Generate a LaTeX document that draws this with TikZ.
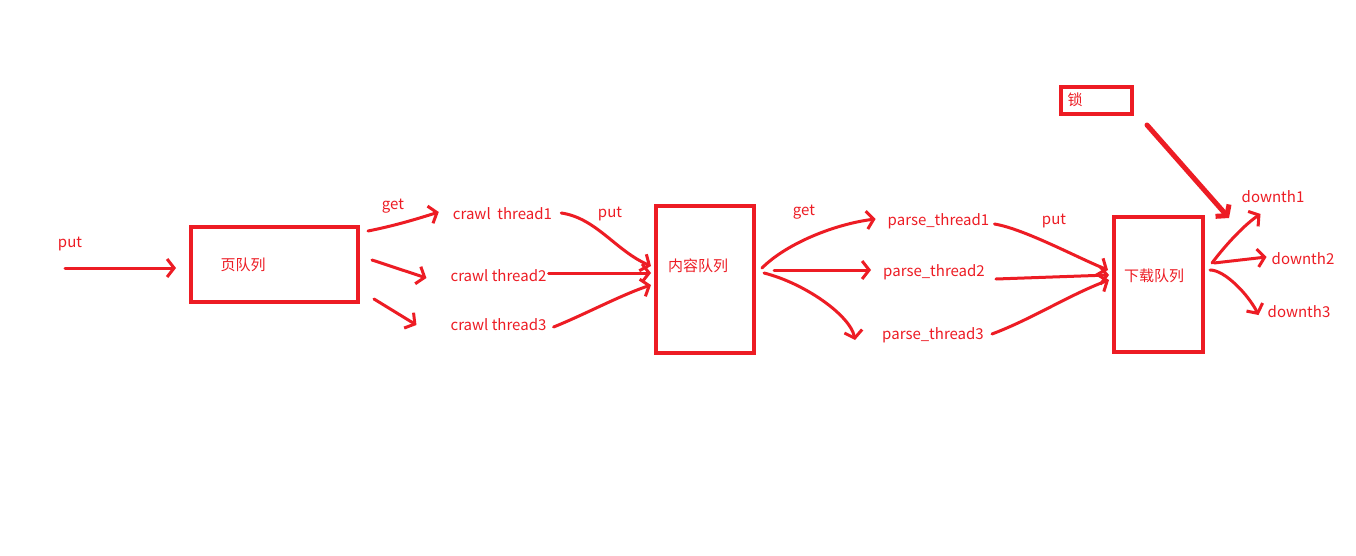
\documentclass[tikz,border=0pt]{standalone}
\usepackage{fontspec}
\setmainfont{Noto Sans CJK SC}
\usetikzlibrary{arrows.meta}
\definecolor{paintred}{RGB}{237,28,36}
\tikzset{
  qbox/.style={draw=paintred, line width=4pt, inner sep=0pt},
  lbl/.style={text=paintred, font=\fontsize{15}{18}\selectfont, inner sep=2pt},
  arr/.style={draw=paintred, line width=3pt, line cap=round, -{Straight Barb[length=7pt,width=18pt]}}
}
\begin{document}
\begin{tikzpicture}[x=1pt,y=-1pt]
    \useasboundingbox[fill=white] (0,0) rectangle (1356,555);
    % queues
    \node[qbox,minimum width=167pt,minimum height=75pt] (pq) at (274.5,264.5) {};
    \node[qbox,minimum width=98pt,minimum height=147pt] (cq) at (705,279.5) {};
    \node[qbox,minimum width=89pt,minimum height=135pt] (dq) at (1158.5,284.5) {};
    \node[qbox,minimum width=71pt,minimum height=27pt] (lock) at (1096.5,100.5) {};
    \node[lbl] (pqt) at (243,265) {页队列};
    \node[lbl] (cqt) at (698,266) {内容队列};
    \node[lbl] (dqt) at (1154,276) {下载队列};
    \node[lbl] (lockt) at (1075,100) {锁};
    % labels
    \node[lbl] (put1) at (70,244) {put};
    \node[lbl] (get1) at (393,206) {get};
    \node[lbl] (put2) at (610,214) {put};
    \node[lbl] (get2) at (804,212) {get};
    \node[lbl] (put3) at (1054,221) {put};
    \node[lbl] (ct1) at (502.5,214) {crawl\ \ thread1};
    \node[lbl] (ct2) at (498.5,276) {crawl thread2};
    \node[lbl] (ct3) at (498.5,325) {crawl thread3};
    \node[lbl] (pt1) at (938.5,221) {parse\_thread1};
    \node[lbl] (pt2) at (934,272) {parse\_thread2};
    \node[lbl] (pt3) at (933,335) {parse\_thread3};
    \node[lbl] (dt1) at (1273,197) {downth1};
    \node[lbl] (dt2) at (1303,259) {downth2};
    \node[lbl] (dt3) at (1299,312) {downth3};
    \coordinate (src) at (65,268);
    % arrows
    \draw[arr] (src) -- ([shift={(-13,3.5)}]pq.west);
    \draw[arr] ([shift={(8,6)}]pq.north east) .. controls +(25,-5) and +(-25,8) .. ([shift={(-12,-2)}]ct1.west);
    \draw[arr] ([shift={(12,-4.5)}]pq.east) -- ([shift={(-22,2)}]ct2.west);
    \draw[arr] ([shift={(14,-5)}]pq.south east) -- ([shift={(-32,0)}]ct3.west);
    \draw[arr] ([shift={(7,-1)}]ct1.east) .. controls +(35,5) and +(-35,-15) .. ([shift={(-3,-13.5)}]cq.west);
    \draw[arr] ([shift={(0,-3)}]ct2.east) -- ([shift={(-3,-6.5)}]cq.west);
    \draw[arr] ([shift={(5,2)}]ct3.east) .. controls +(30,-12) and +(-30,10) .. ([shift={(-3,5.5)}]cq.west);
    \draw[arr] ([shift={(6,-11.5)}]cq.east) .. controls +(25,-25) and +(-40,5) .. ([shift={(-10,-2)}]pt1.west);
    \draw[arr] ([shift={(18,-9.5)}]cq.east) -- ([shift={(-10,-2)}]pt2.west);
    \draw[arr] ([shift={(8,-6.5)}]cq.east) .. controls +(40,10) and +(-5,-25) .. ([shift={(-25,5)}]pt3.west);
    \draw[arr] ([shift={(3,3)}]pt1.east) .. controls +(30,5) and +(-30,-12) .. ([shift={(-4,-14.5)}]dq.west);
    \draw[arr] ([shift={(9,7)}]pt2.east) -- ([shift={(-3,-9.5)}]dq.west);
    \draw[arr] ([shift={(6,-1)}]pt3.east) .. controls +(40,-15) and +(-40,15) .. ([shift={(-3,-4.5)}]dq.west);
    \draw[arr,line width=5pt] ([shift={(13,9)}]lock.south east) -- ([shift={(24,3)}]dq.north east);
    \draw[arr] ([shift={(7,-21.5)}]dq.east) .. controls +(15,-20) and +(-15,10) .. ([shift={(21,17)}]dt1.west);
    \draw[arr] ([shift={(9,-21.5)}]dq.east) -- ([shift={(-3,-2)}]dt2.west);
    \draw[arr] ([shift={(5,-14.5)}]dq.east) .. controls +(15,0) and +(-10,-20) .. ([shift={(-7,3)}]dt3.west);
\end{tikzpicture}
\end{document}
